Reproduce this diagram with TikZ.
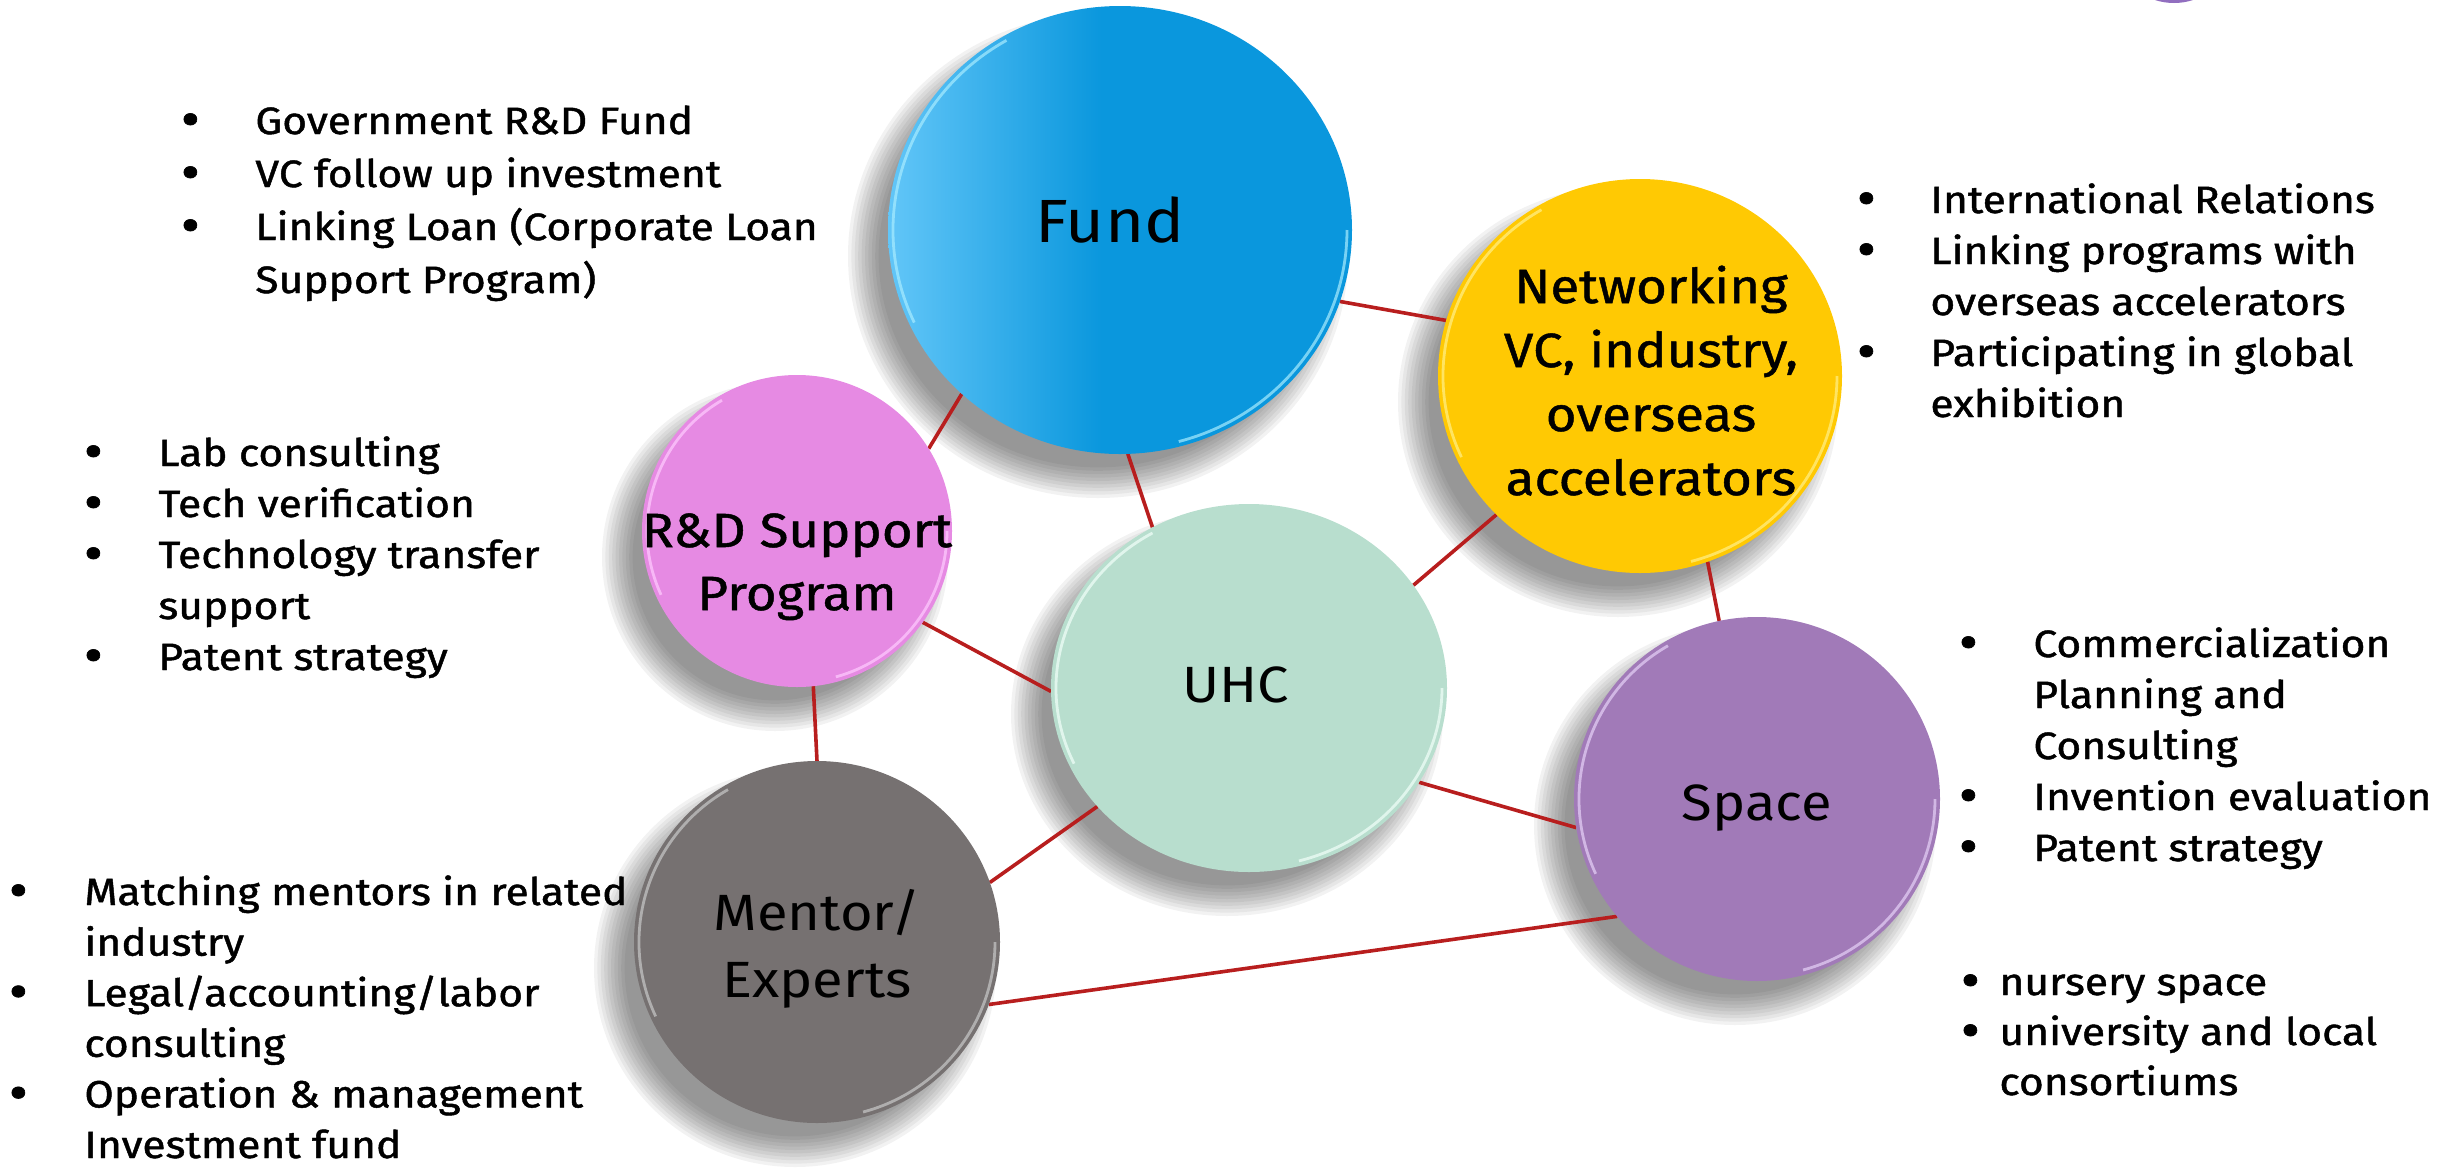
\documentclass[tikz,border=0pt]{standalone}
\usepackage{fontspec}
\setmainfont{Fira Sans}[FakeStretch=1.1]
\newfontfamily\medfont{Fira Sans}[FakeStretch=1.1,FakeBold=1.0]
\newfontfamily\listfont{Fira Sans}[FakeStretch=1.12,FakeBold=1.2]
\usetikzlibrary{shapes.geometric}
\definecolor{fundL}{HTML}{62C6F8}
\definecolor{fundD}{HTML}{0A97DD}
\definecolor{netC}{HTML}{FFC903}
\definecolor{uhcC}{HTML}{B8DECE}
\definecolor{rdC}{HTML}{E68AE3}
\definecolor{mentC}{HTML}{767171}
\definecolor{spaceC}{HTML}{A17AB8}
\definecolor{connC}{HTML}{B81E1E}
\definecolor{rimFund}{HTML}{A8ECFF}
\definecolor{rimNet}{HTML}{FFF08A}
\definecolor{rimUhc}{HTML}{F2FFFA}
\definecolor{rimRd}{HTML}{FFCCFF}
\definecolor{rimMent}{HTML}{C8C8C8}
\definecolor{rimSpace}{HTML}{E6D2F7}
\pgfdeclarehorizontalshading{fundshade}{100bp}{color(0bp)=(fundL); color(25bp)=(fundL); color(48bp)=(fundD); color(100bp)=(fundD)}
\pgfdeclarelayer{shadowlayer}
\pgfdeclarelayer{linelayer}
\pgfsetlayers{shadowlayer,linelayer,main}
\newcommand{\cshadow}[4]{%
  \foreach \k in {0,...,9}{%
    \fill[black,opacity=0.05] ({#1-22},{-#2-26}) ellipse [x radius={#3+18-3.4*\k}, y radius={#4+18-3.4*\k}];}}
\newcommand{\crim}[5]{%
  \draw[#5,line width=1.4pt,opacity=0.7] ({#1},{-#2}) ++(120:{#3-5} and {#4-5}) arc[start angle=120,end angle=205,x radius={#3-5},y radius={#4-5}];
  \draw[#5,line width=1.4pt,opacity=0.7] ({#1},{-#2}) ++(-75:{#3-5} and {#4-5}) arc[start angle=-75,end angle=0,x radius={#3-5},y radius={#4-5}];}
\newcommand{\blt}[1]{\llap{\makebox[#1][c]{\raisebox{-1.5pt}{\fontsize{26}{0}\selectfont •}}}}
\tikzset{
  bubble/.style={ellipse, inner sep=0pt, outer sep=0pt},
  conn/.style={draw=connC, line width=1.8pt},
  listtext/.style={anchor=base west, align=left, inner sep=0pt, font=\listfont\fontsize{19}{25.5}\selectfont},
  bubtext/.style={align=center, inner sep=0pt, anchor=base}
}
\begin{document}
\begin{tikzpicture}[x=0.5pt,y=0.5pt]
\useasboundingbox (0,0) rectangle (2437,-1168);
% partial circle at the top edge
\fill[spaceC!90!blue] (2174,58) circle [radius=61];
% circles
\node[bubble, minimum width=232pt, minimum height=224pt, shade, shading=fundshade] (fund) at (1120,-230) {};
\node[bubble, minimum width=202pt, minimum height=197pt, fill=netC] (net) at (1640,-376) {};
\node[bubble, minimum width=198pt, minimum height=184pt, fill=uhcC] (uhc) at (1249,-688) {};
\node[bubble, minimum width=155pt, minimum height=156pt, fill=rdC] (rd) at (797,-531) {};
\node[bubble, minimum width=183pt, minimum height=181pt, fill=mentC] (ment) at (817,-942) {};
\node[bubble, minimum width=183pt, minimum height=182pt, fill=spaceC] (space) at (1757,-799) {};
% rims
\crim{1120}{230}{232}{224}{rimFund}
\crim{1640}{376}{202}{197}{rimNet}
\crim{1249}{688}{198}{184}{rimUhc}
\crim{797}{531}{155}{156}{rimRd}
\crim{817}{942}{183}{181}{rimMent}
\crim{1757}{799}{183}{182}{rimSpace}
% shadows
\begin{pgfonlayer}{shadowlayer}
\cshadow{1120}{230}{232}{224}
\cshadow{1640}{376}{202}{197}
\cshadow{1249}{688}{198}{184}
\cshadow{797}{531}{155}{156}
\cshadow{817}{942}{183}{181}
\cshadow{1757}{799}{183}{182}
\end{pgfonlayer}
% connectors
\begin{pgfonlayer}{linelayer}
\draw[conn] (fund.-18.4) -- (net.164.9);
\draw[conn] (fund.226.9) -- (rd.32.7);
\draw[conn] (fund.-88) -- (uhc.121.6);
\draw[conn] (net.-136.6) -- (uhc.32);
\draw[conn] (net.-70.8) -- (space.102.6);
\draw[conn] (rd.-36.9) -- (uhc.181.4);
\draw[conn] (rd.-84.7) -- (ment.90);
\draw[conn] (uhc.-142.7) -- (ment.19.7);
\draw[conn] (uhc.-29.8) -- (space.189.4);
\draw[conn] (ment.-20) -- (space.220.6);
\end{pgfonlayer}
% circle labels (anchor = baseline of the last line)
\node[bubtext, font=\fontsize{30.5}{36}\selectfont] (fundtxt) at (1110,-242) {Fund};
\node[bubtext, font=\medfont\fontsize{24}{32}\selectfont] (nettxt) at (1651,-495) {Networking\\VC, industry,\\overseas\\accelerators};
\node[bubtext, font=\fontsize{25.5}{33}\selectfont] (uhctxt) at (1236,-702) {UHC};
\node[bubtext, font=\medfont\fontsize{24}{31.5}\selectfont] (rdtxt) at (797,-610) {R\&D Support\\Program};
\node[bubtext, font=\fontsize{25.5}{33.5}\selectfont] (menttxt) at (817,-997) {Mentor/\\Experts};
\node[bubtext, font=\fontsize{25.5}{33}\selectfont] (spacetxt) at (1757,-820) {Space};
% lists (anchor = baseline of the last line)
\node[listtext, font=\listfont\fontsize{19}{26.5}\selectfont] (fundlist) at (255,-293) {\blt{65pt}Government R\&D Fund\\\blt{65pt}VC follow up investment\\\blt{65pt}Linking Loan (Corporate Loan\\Support Program)};
\node[listtext] (rdlist) at (158,-670) {\blt{65pt}Lab consulting\\\blt{65pt}Tech verification\\\blt{65pt}Technology transfer\\support\\\blt{65pt}Patent strategy};
\node[listtext] (netlist) at (1930,-417) {\blt{64pt}International Relations\\\blt{64pt}Linking programs with\\overseas accelerators\\\blt{64pt}Participating in global\\exhibition};
\node[listtext, font=\listfont\fontsize{19}{25.3}\selectfont] (mentlist) at (84,-1158) {\blt{66pt}Matching mentors in related\\industry\\\blt{66pt}Legal/accounting/labor\\consulting\\\blt{66pt}Operation \& management\\Investment fund};
\node[listtext] (spacelist) at (2033,-861) {\blt{65pt}Commercialization\\Planning and\\Consulting\\\blt{65pt}Invention evaluation\\\blt{65pt}Patent strategy};
\node[listtext, font=\listfont\fontsize{19}{25}\selectfont] (spacelist2) at (1999,-1095) {\blt{29pt}nursery space\\\blt{29pt}university and local\\consortiums};
\end{tikzpicture}
\end{document}
